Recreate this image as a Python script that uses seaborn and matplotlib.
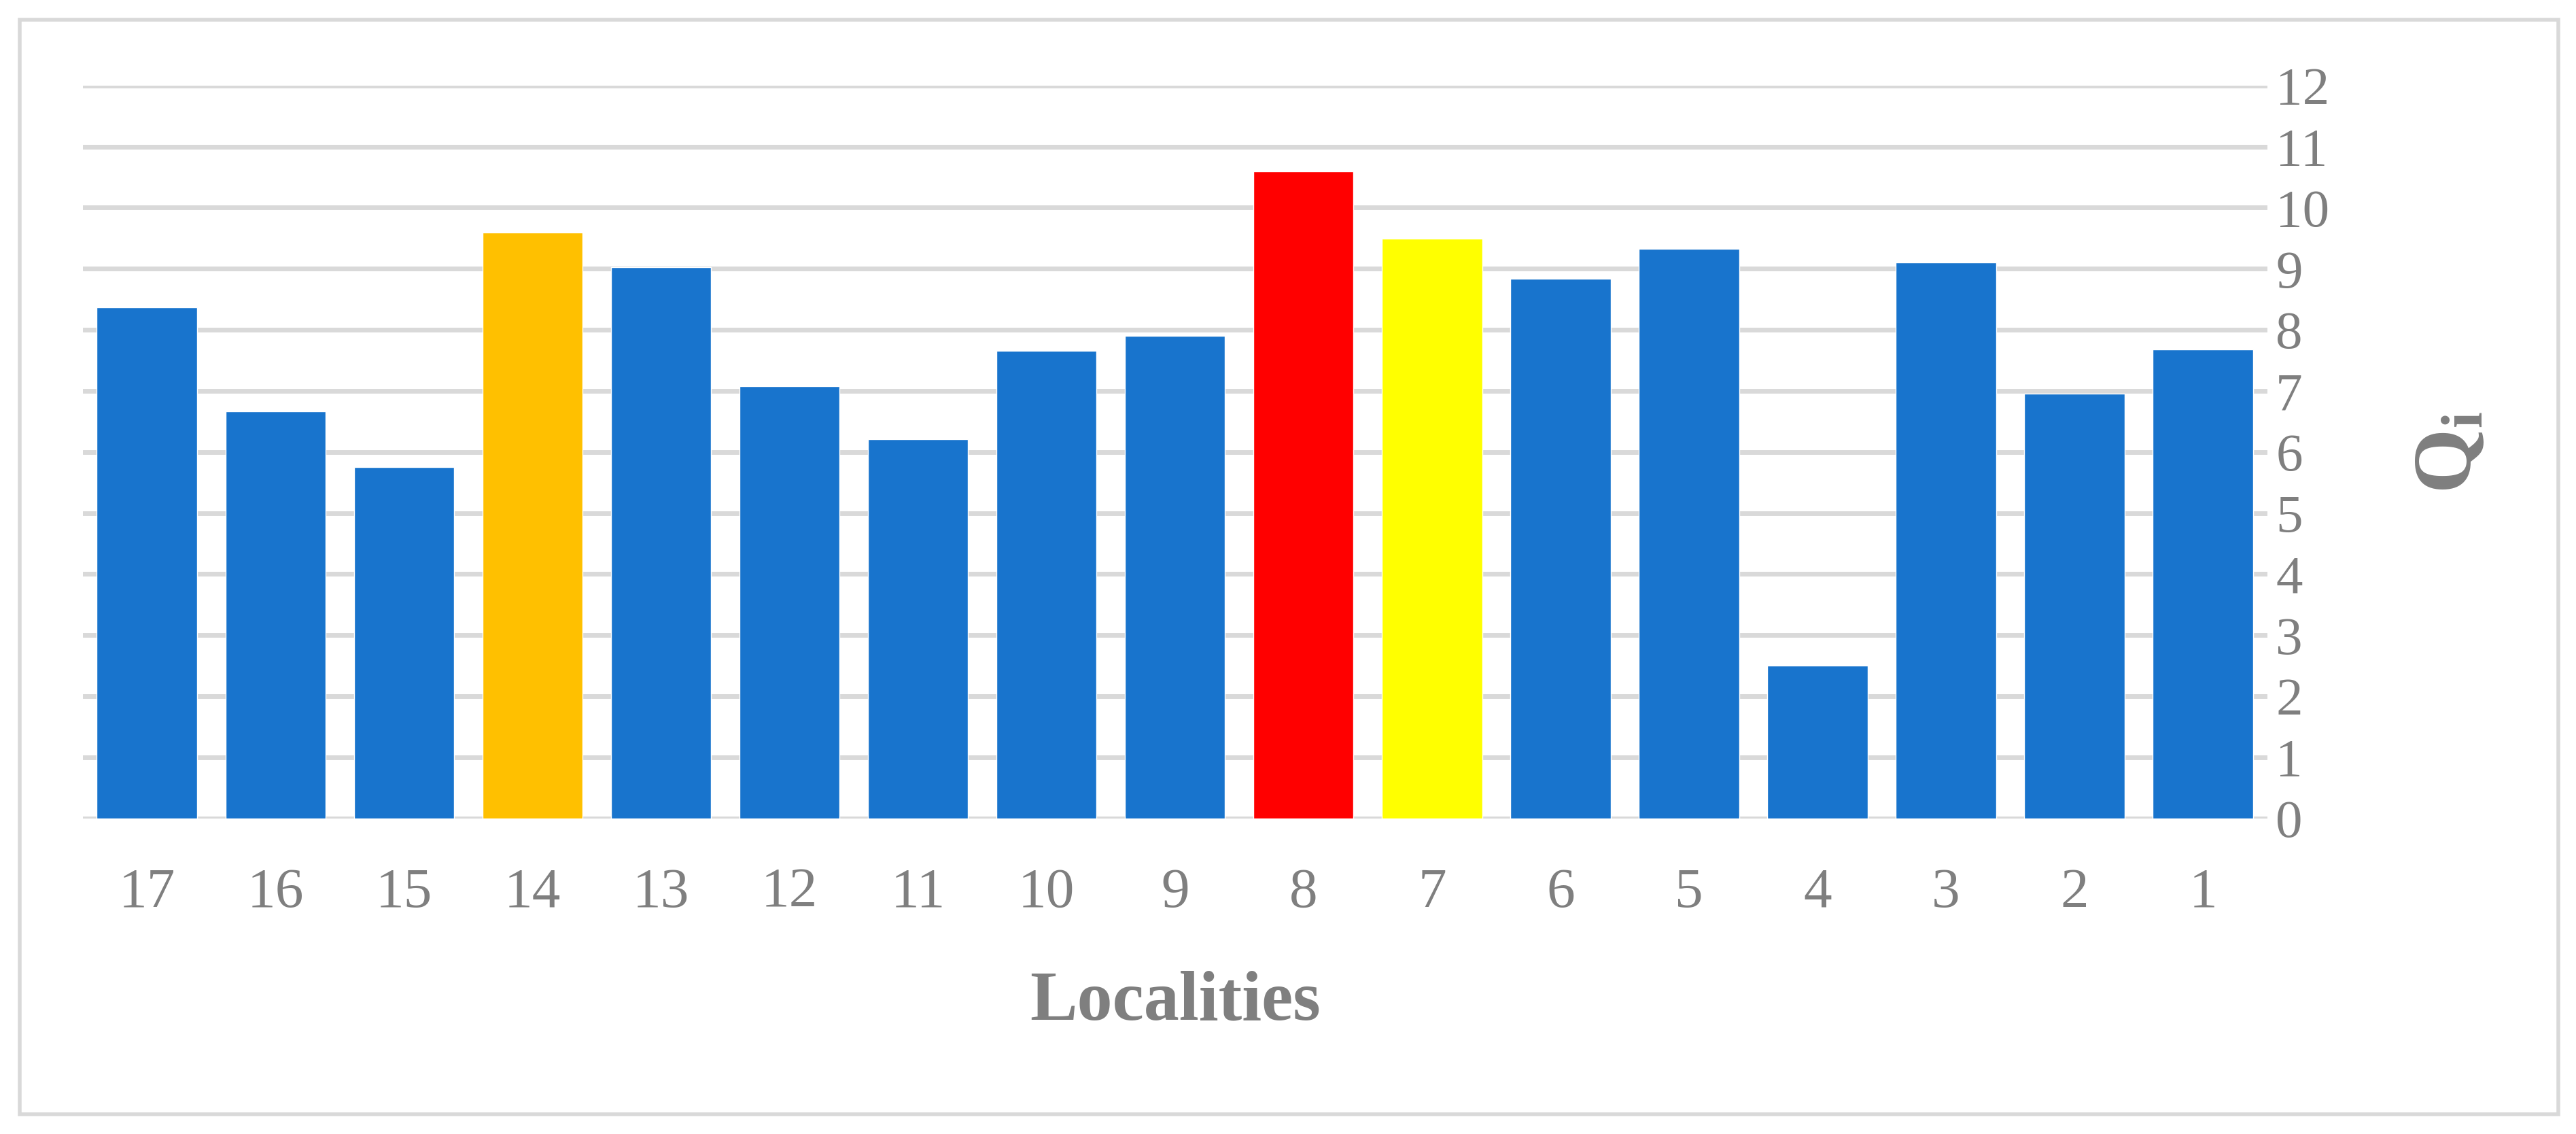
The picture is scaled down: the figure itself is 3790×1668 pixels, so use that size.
import matplotlib
matplotlib.use("Agg")
import matplotlib.pyplot as plt
import seaborn as sns
import pandas as pd
from matplotlib.patches import Rectangle

# Q_i per locality (left to right: 17 .. 1)
localities = ["17", "16", "15", "14", "13", "12", "11", "10", "9",
              "8", "7", "6", "5", "4", "3", "2", "1"]
qi = [8.37, 6.67, 5.75, 9.59, 9.03, 7.08, 6.21, 7.66, 7.90,
      10.59, 9.49, 8.84, 9.33, 2.50, 9.10, 6.95, 7.68]

blue = "#1874CD"
highlight = {"8": "#FF0000", "14": "#FFC000", "7": "#FFFF00"}
colors = {loc: highlight.get(loc, blue) for loc in localities}

df = pd.DataFrame({"Locality": localities, "Qi": qi})

sns.set_style("white")
plt.rcParams["font.family"] = ["Liberation Serif", "DejaVu Serif"]
plt.rcParams["mathtext.fontset"] = "custom"
plt.rcParams["mathtext.rm"] = "Liberation Serif"
plt.rcParams["mathtext.bf"] = "Liberation Serif:bold"

grey = "#7F7F7F"
grid = "#D9D9D9"

fig = plt.figure(figsize=(37.91, 16.68), dpi=100)
ax = fig.add_axes([0.0321, 0.2783, 0.8478, 0.6463])

sns.barplot(data=df, x="Locality", y="Qi", hue="Locality", order=localities,
            palette=colors, legend=False, width=0.78, saturation=1, ax=ax, zorder=3)

ax.set_ylim(0, 12)
ax.set_xlim(-0.5, len(localities) - 0.5)
ax.set_yticks(range(0, 13))
ax.yaxis.tick_right()
ax.grid(axis="y", color=grid, linewidth=5, zorder=0)
ax.set_axisbelow(True)
for s in ax.spines.values():
    s.set_visible(False)

ax.tick_params(axis="y", length=0, pad=9, labelsize=57, labelcolor=grey)
ax.tick_params(axis="x", length=0, pad=52, labelsize=60, labelcolor=grey)
ax.set_xlabel("")
ax.set_ylabel("")

fig.text(0.456, 0.116, "Localities", ha="center", va="center",
         fontsize=75, fontweight="bold", color=grey)
fig.text(0.951, 0.601, r"$\mathbf{Q_i}$", ha="center", va="center",
         rotation=90, fontsize=88, color=grey)

# light frame round the whole picture
fig.patches.append(Rectangle((12 / 1568, 12 / 690), 1545 / 1568, 666 / 690,
                             transform=fig.transFigure, fill=False,
                             edgecolor=grid, linewidth=4))

fig.savefig("out.png", dpi=100, facecolor="white")
